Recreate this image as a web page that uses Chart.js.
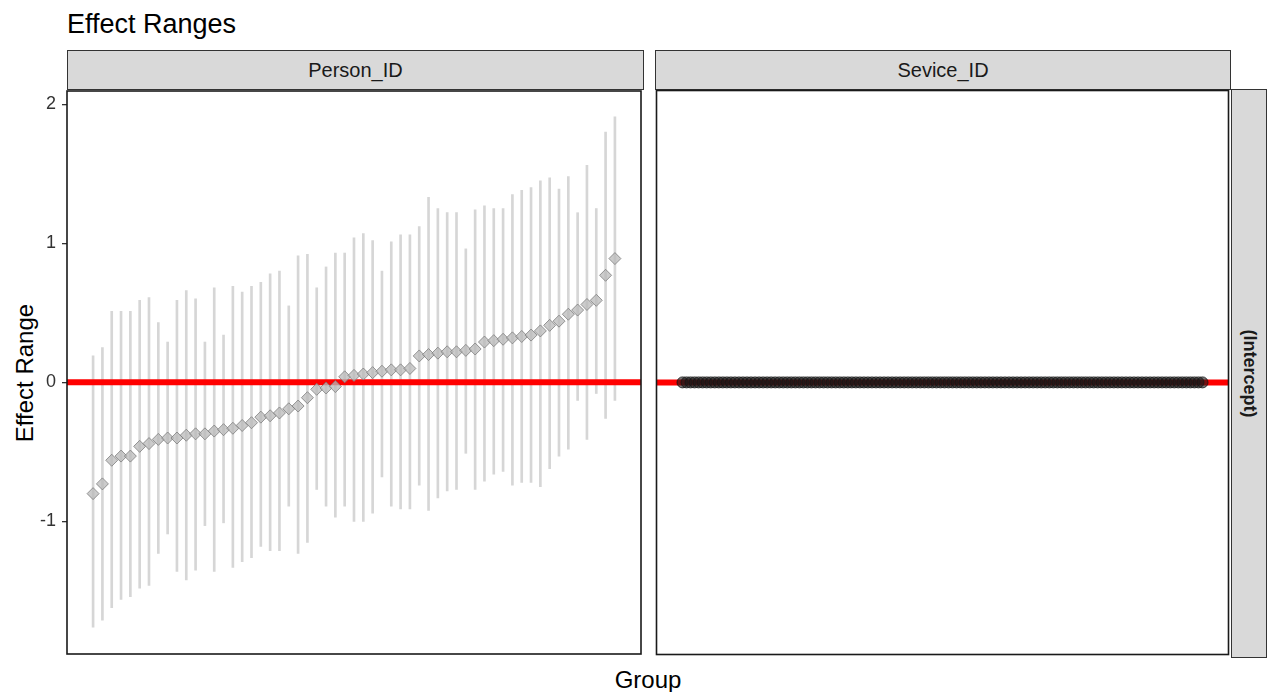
<!DOCTYPE html>
<html>
<head>
<meta charset="utf-8">
<script src="https://cdn.jsdelivr.net/npm/chart.js@4.4.1/dist/chart.umd.min.js"></script>
<style>
  body { margin:0; background:#fff; font-family:"Liberation Sans", Arial, sans-serif; }
  #wrap { position:relative; width:1268px; height:692px; overflow:hidden; }
  .abs { position:absolute; }
  #title { left:67px; top:11px; font-size:27px; line-height:27px; color:#000; white-space:nowrap; }
  .strip { background:#d9d9d9; border:1px solid #333; box-sizing:border-box; display:flex; align-items:center; justify-content:center; font-size:20px; color:#1a1a1a; }
  #ylab { left:25px; top:373px; font-size:24px; transform:translate(-50%,-50%) rotate(-90deg); white-space:nowrap; }
  #xlab { left:648px; top:680px; font-size:24px; transform:translate(-50%,-50%); white-space:nowrap; }
  #stripR span { transform:rotate(90deg); white-space:nowrap; font-weight:bold; font-size:18px; }
  canvas { position:absolute; }
</style>
</head>
<body>
<div id="wrap">
  <div id="title" class="abs">Effect Ranges</div>
  <div class="abs strip" style="left:67px;top:50px;width:577px;height:40px">Person_ID</div>
  <div class="abs strip" style="left:655px;top:50px;width:576px;height:40px">Sevice_ID</div>
  <div id="stripR" class="abs strip" style="left:1231px;top:89px;width:36px;height:569px"><span>(Intercept)</span></div>
  <div id="ylab" class="abs">Effect Range</div>
  <div id="xlab" class="abs">Group</div>
  <canvas id="c-person" width="648" height="577" style="left:0;top:84px"></canvas>
  <canvas id="c-service" width="585" height="577" style="left:650px;top:84px"></canvas>
</div>
<script>
// Person_ID: median and interval, sorted by median
const personMedian = [-0.80,-0.73,-0.56,-0.53,-0.53,-0.46,-0.44,-0.41,-0.40,-0.40,
  -0.38,-0.37,-0.37,-0.35,-0.34,-0.33,-0.31,-0.29,-0.25,-0.24,
  -0.22,-0.19,-0.17,-0.11,-0.05,-0.04,-0.03,0.04,0.05,0.06,
  0.07,0.08,0.09,0.09,0.10,0.19,0.20,0.21,0.22,0.22,
  0.23,0.24,0.29,0.30,0.31,0.32,0.33,0.34,0.37,0.41,
  0.44,0.49,0.52,0.56,0.59,0.77,0.89];
const personUpper = [0.19,0.25,0.51,0.51,0.51,0.59,0.61,0.43,0.29,0.59,
  0.66,0.60,0.29,0.68,0.34,0.69,0.65,0.69,0.72,0.78,
  0.80,0.55,0.91,0.92,0.68,0.83,0.93,0.93,1.04,1.07,
  1.02,0.80,1.01,1.06,1.06,1.12,1.33,1.25,1.22,1.22,
  0.96,1.24,1.27,1.25,1.25,1.35,1.38,1.40,1.45,1.47,
  1.39,1.48,1.22,1.56,1.25,1.80,1.91];
const personLower = [-1.76,-1.71,-1.62,-1.56,-1.54,-1.48,-1.46,-1.23,-1.09,-1.36,
  -1.42,-1.35,-1.03,-1.36,-1.01,-1.33,-1.29,-1.26,-1.18,-1.21,
  -1.21,-0.89,-1.23,-1.15,-0.77,-0.89,-0.97,-0.89,-1.00,-1.00,
  -0.94,-0.68,-0.89,-0.91,-0.91,-0.74,-0.92,-0.83,-0.78,-0.77,
  -0.51,-0.77,-0.71,-0.66,-0.64,-0.74,-0.72,-0.72,-0.75,-0.62,
  -0.53,-0.48,-0.13,-0.41,-0.08,-0.26,-0.13];

// Sevice_ID: every effect sits at 0
const serviceMedian = [
  0,0,0,0,0,0,0,0,0,0, 0,0,0,0,0,0,0,0,0,0, 0,0,0,0,0,0,0,0,0,0,
  0,0,0,0,0,0,0,0,0,0, 0,0,0,0,0,0,0,0,0,0, 0,0,0,0,0,0,0,0,0,0,
  0,0,0,0,0,0,0,0,0,0, 0,0,0,0,0,0,0,0,0,0, 0,0,0,0,0,0,0,0,0,0,
  0,0,0,0,0,0,0,0,0,0, 0,0,0,0,0,0,0,0,0,0, 0,0,0,0,0,0,0,0,0,0,
  0,0,0,0,0,0,0,0,0,0];

const yTicks = [-1, 0, 1, 2];
const yMin = -1.953, yMax = 2.095;
const refLine = 0;

const fonte = { family: "'Liberation Sans', Arial, sans-serif", size: 18 };

// moldura do painel
const frame = {
  id: 'frame',
  afterDraw(chart) {
    const { ctx, chartArea: a } = chart;
    ctx.save();
    ctx.strokeStyle = '#1a1a1a';
    ctx.lineWidth = 1.6;
    ctx.strokeRect(a.left, a.top, a.right - a.left, a.bottom - a.top);
    ctx.restore();
  }
};

function xRange(n) {
  const pad = 0.05 * (n - 1);
  return { min: 1 - pad, max: n + pad };
}

function montarPainel(id, medians, lower, upper, showY, pointOpts, padLeft) {
  const n = medians.length;
  const xr = xRange(n);
  const pontos = medians.map((v, i) => ({ x: i + 1, y: v }));
  const datasets = [
    { type:'scatter', data:pontos, order:0, ...pointOpts },
    { type:'line', data:[{x:xr.min, y:refLine}, {x:xr.max, y:refLine}], borderColor:'#ff0000',
      borderWidth:6, pointRadius:0, order:1 }
  ];
  if (lower) {
    datasets.push({ type:'bar', data:medians.map((v, i) => ({ x:i + 1, y:[lower[i], upper[i]] })),
      backgroundColor:'#d6d6d6', barThickness:2, order:2 });
  }
  return new Chart(document.getElementById(id), {
    type: 'scatter',
    data: { datasets },
    options: {
      responsive:false, animation:false, devicePixelRatio:1,
      layout: { padding: { top:5, right:5, bottom:4, left:padLeft } },
      plugins: { legend:{ display:false }, tooltip:{ enabled:false } },
      scales: {
        x: { type:'linear', min:xr.min, max:xr.max, offset:false, display:false },
        y: {
          type:'linear', min:yMin, max:yMax, display:showY,
          afterFit: s => {
            if (showY) s.width = 67;
            s.paddingTop = 0; s.paddingBottom = 0;
          },
          afterBuildTicks: s => { s.ticks = yTicks.map(v => ({ value:v })); },
          ticks: { font:fonte, color:'#333', padding:6, callback: v => String(v) },
          grid: { drawOnChartArea:false, tickLength:5, color:'#333', lineWidth:1.3 },
          border: { display:false }
        }
      }
    },
    plugins: [frame]
  });
}

montarPainel('c-person', personMedian, personLower, personUpper, true,
  { pointStyle:'rectRot', pointRadius:6, backgroundColor:'rgba(185,185,185,0.75)',
    borderColor:'rgba(120,120,120,0.75)', borderWidth:1 }, 0);
montarPainel('c-service', serviceMedian, null, null, false,
  { pointStyle:'circle', pointRadius:5.5, backgroundColor:'rgba(25,25,25,0.6)',
    borderColor:'rgba(20,20,20,0.8)', borderWidth:1 }, 5);
</script>
</body>
</html>
